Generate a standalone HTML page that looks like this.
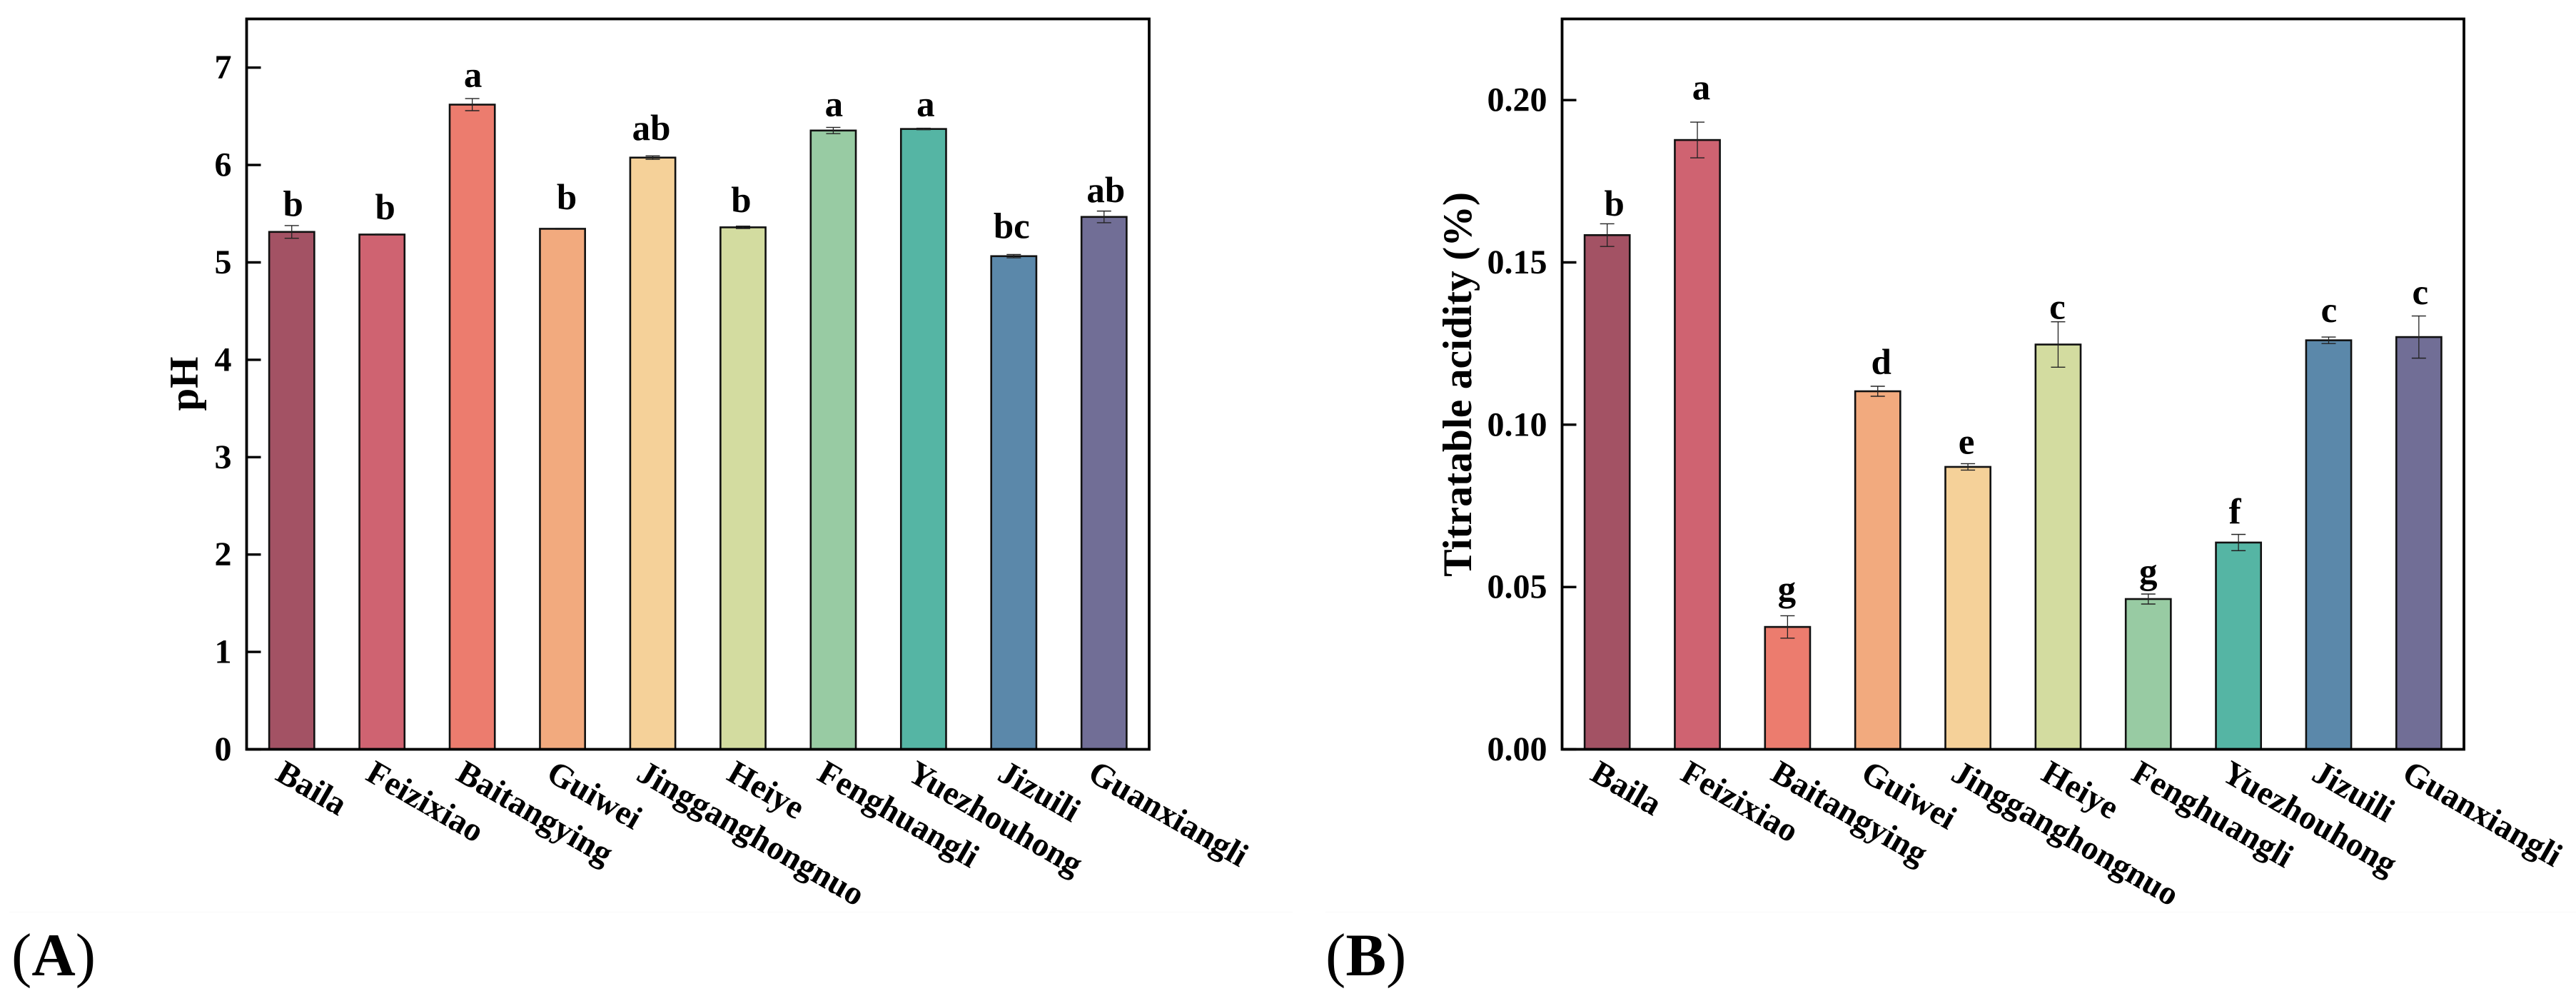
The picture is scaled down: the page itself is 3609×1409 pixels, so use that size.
<!DOCTYPE html>
<html lang="en">
<head>
<meta charset="utf-8">
<title>pH and titratable acidity by cultivar</title>
<style>
html,body{margin:0;padding:0;background:#fff;}
svg{display:block;}
text{font-family:"Liberation Serif",serif;font-weight:bold;fill:#000;}
.paren{font-weight:normal;}
</style>
</head>
<body>
<svg id="figure" xmlns="http://www.w3.org/2000/svg" width="3609" height="1409" viewBox="0 0 3609 1409">
  <rect x="0" y="0" width="3609" height="1409" fill="#ffffff"/>
  <line x1="13" y1="1277.5" x2="1811" y2="1277.5" stroke="#f9f9f9" stroke-width="1"/>
  <line x1="1857" y1="1277.5" x2="3609" y2="1277.5" stroke="#f9f9f9" stroke-width="1"/>
  <text x="16" y="1366" font-size="85"><tspan class="paren">(</tspan>A<tspan class="paren">)</tspan></text>
  <text x="1857" y="1366" font-size="85"><tspan class="paren">(</tspan>B<tspan class="paren">)</tspan></text>
  <text transform="translate(277 537.5) rotate(-90)" text-anchor="middle" font-size="57">pH</text>
  <text transform="translate(2061 538.4) rotate(-90)" text-anchor="middle" font-size="57.5">Titratable acidity (%)</text>
</svg>
<script>
const categories = ["Baila","Feizixiao","Baitangying","Guiwei","Jingganghongnuo","Heiye","Fenghuangli","Yuezhouhong","Jizuili","Guanxiangli"];
const phValues = [5.313,5.286,6.62,5.345,6.076,5.36,6.354,6.37,5.064,5.467];
const phErrors = [0.065,0.005,0.062,0.005,0.018,0.012,0.032,0.008,0.017,0.06];
const phLetters = ["b","b","a","b","ab","b","a","a","bc","ab"];
const phTicks = [0,1,2,3,4,5,6,7];
const phTickLabels = ["0","1","2","3","4","5","6","7"];
const acidityValues = [0.1584,0.1877,0.0377,0.1103,0.087,0.1247,0.0463,0.0637,0.126,0.127];
const acidityErrors = [0.0035,0.0055,0.00345,0.00154,0.001,0.007,0.00154,0.0025,0.001,0.0065];
const acidityLetters = ["b","a","g","d","e","c","g","f","c","c"];
const acidityTicks = [0,0.05,0.1,0.15,0.2];
const acidityTickLabels = ["0.00","0.05","0.10","0.15","0.20"];
const barColors = ["#a35264","#cf6371","#ec7c6e","#f2aa7e","#f5d199","#d3dca0","#98cba3","#55b5a4","#5b88aa","#716e96"];

const SVG_NS = "http://www.w3.org/2000/svg";
const figure = document.getElementById("figure");

function shape(tag, attrs, parent) {
  const el = document.createElementNS(SVG_NS, tag);
  for (const key in attrs) el.setAttribute(key, attrs[key]);
  parent.appendChild(el);
  return el;
}

function drawChart(opts) {
  const plotTop = 26.5, plotBottom = 1049.5;
  const bandWidth = (opts.right - opts.left) / categories.length;
  const xScale = i => opts.left + bandWidth * (i + 0.5);
  const yScale = v => plotBottom - (v / opts.yMax) * (plotBottom - plotTop);

  opts.values.forEach((value, i) => {
    const bar = shape("rect", {
      x: xScale(i) - bandWidth / 4,
      y: yScale(value),
      width: bandWidth / 2,
      height: plotBottom - yScale(value),
      fill: barColors[i],
      stroke: "#111",
      "stroke-width": 2.6
    }, figure);
    
    
  });

  opts.values.forEach((value, i) => {
    const cx = xScale(i);
    const hi = yScale(value + opts.errors[i]);
    const lo = yScale(value - opts.errors[i]);
    const stem = shape("line", {x1: cx, x2: cx, y1: hi, y2: lo, stroke: "#222", "stroke-width": 1.3}, figure);
    
    
    const capTop = shape("line", {x1: cx - 10, x2: cx + 10, y1: hi, y2: hi, stroke: "#222", "stroke-width": 1.4}, figure);
    
    
    const capLow = shape("line", {x1: cx - 10, x2: cx + 10, y1: lo, y2: lo, stroke: "#222", "stroke-width": 1.4}, figure);
    
    

    const letter = shape("text", {
      x: cx + opts.letterShift[i],
      y: hi - opts.letterGap[i],
      "text-anchor": "middle",
      "font-size": 51
    }, figure);
    letter.textContent = opts.letters[i];
    
    

    const tx = cx + opts.xLabelShift;
    const tickLabel = shape("text", {
      transform: "translate(" + tx + " 1091) rotate(30)",
      "font-size": 47
    }, figure);
    tickLabel.textContent = categories[i];
    
    
  });

  opts.ticks.forEach((tick, i) => {
    const ty = yScale(tick);
    const mark = shape("line", {x1: opts.left, x2: opts.left + 20, y1: ty, y2: ty, stroke: "#000", "stroke-width": 3.4}, figure);
    
    
    const label = shape("text", {
      x: opts.left - 21,
      y: ty + 15.5,
      "text-anchor": "end",
      "font-size": 48
    }, figure);
    label.textContent = opts.tickLabels[i];
    
    
  });

  const frame = shape("rect", {
    x: opts.left,
    y: plotTop,
    width: opts.right - opts.left,
    height: plotBottom - plotTop,
    fill: "none",
    stroke: "#000",
    "stroke-width": 3.8
  }, figure);
  
  
}

drawChart({
  key: "ph",
  left: 345.5,
  right: 1610,
  yMax: 7.5,
  values: phValues,
  errors: phErrors,
  letters: phLetters,
  ticks: phTicks,
  tickLabels: phTickLabels,
  letterShift: [2,4.5,1,6,-2,-2.5,1,3,-3,2.5],
  letterGap: [13.5,21,16.5,27,22.5,20,16,17,23,12.5],
  xLabelShift: -25
});

drawChart({
  key: "acidity",
  left: 2188.5,
  right: 3452,
  yMax: 0.225,
  values: acidityValues,
  errors: acidityErrors,
  letters: acidityLetters,
  ticks: acidityTicks,
  tickLabels: acidityTickLabels,
  letterShift: [10,5.5,-1,5,-2,-1,0,-5,0.5,2],
  letterGap: [11.5,32,21,17,14,4,15,15,21,16.5],
  xLabelShift: -26
});
</script>
</body>
</html>
